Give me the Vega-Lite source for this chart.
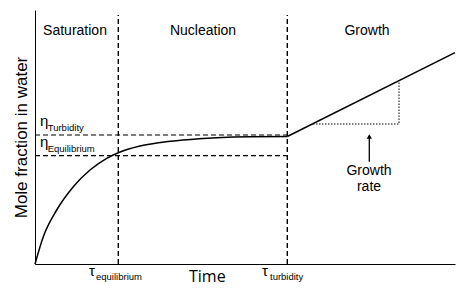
{
  "$schema": "https://vega.github.io/schema/vega-lite/v6.json",
  "width": 420,
  "height": 254,
  "autosize": "none",
  "padding": {"left": 35, "top": 10, "right": 10, "bottom": 35},
  "background": "white",
  "config": {
    "view": {"stroke": null},
    "font": "Liberation Sans",
    "text": {"font": "Liberation Sans", "color": "black"}
  },
  "datasets": {
    "curve": [
      {"t": 0, "v": 0}, {"t": 8.3, "v": 27.3}, {"t": 21.7, "v": 54}, {"t": 38.3, "v": 77.3},
      {"t": 55, "v": 94}, {"t": 71.7, "v": 105.7}, {"t": 83.3, "v": 111.3}, {"t": 105, "v": 118},
      {"t": 123.3, "v": 121.3}, {"t": 148, "v": 124}, {"t": 181.7, "v": 126.3},
      {"t": 215, "v": 127.3}, {"t": 252.3, "v": 127.5}
    ],
    "growth": [
      {"t": 252.3, "v": 127.5}, {"t": 420, "v": 211.3}
    ],
    "vlines": [
      {"t": 83.3, "v0": 0, "v1": 249},
      {"t": 252.3, "v0": 0, "v1": 249}
    ],
    "hlines": [
      {"v": 129, "t0": 0, "t1": 252.3},
      {"v": 108.3, "t0": 0, "t1": 252.3}
    ],
    "triangle": [
      {"o": 1, "t": 278, "v": 140}, {"o": 2, "t": 364, "v": 140}, {"o": 3, "t": 364, "v": 183.3}
    ],
    "arrow": [{"t": 334.3, "v0": 102.3, "v1": 127}],
    "arrowhead": [{"t": 334.3, "v": 127.5}],
    "phases": [
      {"t": 40, "v": 233, "label": "Saturation"},
      {"t": 168, "v": 233, "label": "Nucleation"},
      {"t": 332, "v": 233, "label": "Growth"},
      {"t": 334, "v": 93.5, "label": "Growth"},
      {"t": 334, "v": 77.5, "label": "rate"}
    ],
    "symbols": [
      {"t": 5, "v": 138, "label": "η"},
      {"t": 5, "v": 117, "label": "η"},
      {"t": 54, "v": -12, "label": "τ"},
      {"t": 227, "v": -12, "label": "τ"}
    ],
    "subs": [
      {"t": 12.7, "v": 133.5, "label": "Turbidity"},
      {"t": 12.7, "v": 112.5, "label": "Equilibrium"},
      {"t": 61, "v": -16, "label": "equilibrium"},
      {"t": 235, "v": -16, "label": "turbidity"}
    ],
    "xtitle": [{"t": 172.3, "v": -13, "label": "Time"}]
  },
  "layer": [
    {
      "data": {"name": "curve"},
      "mark": {"type": "line", "color": "black", "strokeWidth": 1.5, "interpolate": "monotone"},
      "encoding": {
        "x": {"field": "t", "type": "quantitative", "scale": {"domain": [0, 420], "nice": false},
          "axis": {"title": null, "labels": false, "ticks": false, "grid": false, "domainColor": "black", "domainWidth": 1}},
        "y": {"field": "v", "type": "quantitative", "scale": {"domain": [0, 254], "nice": false},
          "axis": {"title": "Mole fraction in water", "labels": false, "ticks": false, "grid": false,
            "domainColor": "black", "domainWidth": 1, "titleFont": "Liberation Sans", "titleFontSize": 17,
            "titleFontWeight": "normal", "titleColor": "black", "titlePadding": 5}}
      }
    },
    {
      "data": {"name": "growth"},
      "mark": {"type": "line", "color": "black", "strokeWidth": 1.5},
      "encoding": {
        "x": {"field": "t", "type": "quantitative"},
        "y": {"field": "v", "type": "quantitative"}
      }
    },
    {
      "data": {"name": "vlines"},
      "mark": {"type": "rule", "color": "black", "strokeWidth": 1.4, "strokeDash": [5, 3]},
      "encoding": {
        "x": {"field": "t", "type": "quantitative"},
        "y": {"field": "v0", "type": "quantitative"},
        "y2": {"field": "v1"}
      }
    },
    {
      "data": {"name": "hlines"},
      "mark": {"type": "rule", "color": "black", "strokeWidth": 1.2, "strokeDash": [5, 3]},
      "encoding": {
        "y": {"field": "v", "type": "quantitative"},
        "x": {"field": "t0", "type": "quantitative"},
        "x2": {"field": "t1"}
      }
    },
    {
      "data": {"name": "triangle"},
      "mark": {"type": "line", "color": "black", "strokeWidth": 1, "strokeDash": [1.5, 1.5]},
      "encoding": {
        "x": {"field": "t", "type": "quantitative"},
        "y": {"field": "v", "type": "quantitative"},
        "order": {"field": "o"}
      }
    },
    {
      "data": {"name": "arrow"},
      "mark": {"type": "rule", "color": "black", "strokeWidth": 1.3},
      "encoding": {
        "x": {"field": "t", "type": "quantitative"},
        "y": {"field": "v0", "type": "quantitative"},
        "y2": {"field": "v1"}
      }
    },
    {
      "data": {"name": "arrowhead"},
      "mark": {"type": "point", "shape": "triangle-up", "filled": true, "color": "black", "size": 28, "opacity": 1},
      "encoding": {
        "x": {"field": "t", "type": "quantitative"},
        "y": {"field": "v", "type": "quantitative"}
      }
    },
    {
      "data": {"name": "phases"},
      "mark": {"type": "text", "fontSize": 14, "align": "center", "baseline": "middle"},
      "encoding": {
        "x": {"field": "t", "type": "quantitative"},
        "y": {"field": "v", "type": "quantitative"},
        "text": {"field": "label"}
      }
    },
    {
      "data": {"name": "symbols"},
      "mark": {"type": "text", "fontSize": 15, "align": "left", "baseline": "alphabetic"},
      "encoding": {
        "x": {"field": "t", "type": "quantitative"},
        "y": {"field": "v", "type": "quantitative"},
        "text": {"field": "label"}
      }
    },
    {
      "data": {"name": "subs"},
      "mark": {"type": "text", "fontSize": 9.5, "align": "left", "baseline": "alphabetic"},
      "encoding": {
        "x": {"field": "t", "type": "quantitative"},
        "y": {"field": "v", "type": "quantitative"},
        "text": {"field": "label"}
      }
    },
    {
      "data": {"name": "xtitle"},
      "mark": {"type": "text", "fontSize": 16, "align": "center", "baseline": "middle", "font": "Open Sans"},
      "encoding": {
        "x": {"field": "t", "type": "quantitative"},
        "y": {"field": "v", "type": "quantitative"},
        "text": {"field": "label"}
      }
    }
  ]
}
